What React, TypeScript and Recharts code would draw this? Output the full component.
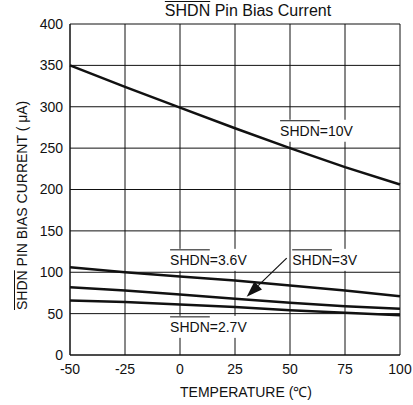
import {
  CartesianGrid,
  Line,
  LineChart,
  ReferenceDot,
  ReferenceLine,
  XAxis,
  YAxis,
} from 'recharts'

// temperature (°C) on the x axis
const temps = [-50, -25, 0, 25, 50, 75, 100]
// bias current (µA) per SHDN voltage
const shdn10 = [350, 324, 299, 274, 250, 227, 206]
const shdn36 = [106, 100, 95, 90, 84, 78, 71]
const shdn3 = [82, 78, 73, 68, 63, 59, 56]
const shdn27 = [66, 64, 61, 58, 54, 51, 48]

const xTicks = [-50, -25, 0, 25, 50, 75, 100]
const yTicks = [0, 50, 100, 150, 200, 250, 300, 350, 400]

// curve labels: suffix after the overlined SHDN, anchor (left edge, middle) in data units
const labelText = ['=10V', '=3.6V', '=3V', '=2.7V']
const labelX = [45.5, -4.5, 51, -4.5]
const labelY = [271, 115, 115, 34]

// arrow from the 3V label down to its curve
const arrowFrom = [48.5, 117]
const arrowTo = [30.3, 70.5]

const data = temps.map((t, i) => ({
  t,
  v10: shdn10[i],
  v36: shdn36[i],
  v3: shdn3[i],
  v27: shdn27[i],
}))

const FONT = '"Liberation Sans", Arial, Helvetica, sans-serif'
const INK = '#111'
const SHDN_W = 39.7 // width of "SHDN" at 14px

function CurveLabel({ cx, cy, suffix }: { cx?: number; cy?: number; suffix: string }) {
  if (cx == null || cy == null) return null
  const w = SHDN_W + suffix.length * 7.6 + 2
  return (
    <g>
      <rect x={cx - 1} y={cy - 11} width={w} height={22} fill="#fff" />
      <line x1={cx} x2={cx + SHDN_W} y1={cy - 10} y2={cy - 10} stroke={INK} strokeWidth={1} />
      <text x={cx} y={cy + 5} fontSize={14} fill={INK} fontFamily={FONT}>
        SHDN{suffix}
      </text>
    </g>
  )
}

function Arrow(props: any) {
  const { x1, y1, x2, y2 } = props
  const dx = x2 - x1
  const dy = y2 - y1
  const len = Math.hypot(dx, dy)
  const ux = dx / len
  const uy = dy / len
  const head = 16
  const half = 5.5
  const bx = x2 - ux * head
  const by = y2 - uy * head
  return (
    <g>
      <line x1={x1} y1={y1} x2={bx} y2={by} stroke={INK} strokeWidth={1.2} />
      <polygon
        points={`${x2},${y2} ${bx - uy * half},${by + ux * half} ${bx + uy * half},${by - ux * half}`}
        fill={INK}
      />
    </g>
  )
}

function YTitle({ viewBox }: any) {
  const cx = 20
  const startY = viewBox.y + viewBox.height - 45
  return (
    <g transform={`translate(${cx},${startY}) rotate(-90)`}>
      <line x1={0} x2={SHDN_W} y1={-5.5} y2={-5.5} stroke={INK} strokeWidth={1} />
      <text x={0} y={6.5} fontSize={14} fill={INK} fontFamily={FONT}>
        SHDN PIN BIAS CURRENT ( μA)
      </text>
    </g>
  )
}

export default function App() {
  return (
    <div
      style={{
        position: 'absolute',
        left: 0,
        top: 0,
        width: 413,
        height: 405,
        background: '#fff',
        fontFamily: FONT,
        color: INK,
      }}
    >
      <div
        style={{
          position: 'absolute',
          top: 2,
          left: 0,
          width: 496,
          textAlign: 'center',
          fontSize: 16,
          whiteSpace: 'nowrap',
        }}
      >
        <span style={{ textDecoration: 'overline' }}>SHDN</span> Pin Bias Current
      </div>
      <div
        style={{
          position: 'absolute',
          top: 382,
          left: 0,
          width: 492,
          textAlign: 'center',
          fontSize: 14,
          whiteSpace: 'nowrap',
        }}
      >
        TEMPERATURE (℃)
      </div>
      <LineChart
        width={413}
        height={405}
        data={data}
        margin={{ top: 24, right: 13, left: 0, bottom: 0 }}
      >
        <CartesianGrid stroke={INK} strokeWidth={1} horizontalValues={yTicks} verticalValues={xTicks} />
        <XAxis
          dataKey="t"
          type="number"
          domain={[-50, 100]}
          ticks={xTicks}
          height={50}
          tickLine={false}
          axisLine={{ stroke: INK }}
          tick={{ fill: INK, fontSize: 14, fontFamily: FONT }}
          tickMargin={3}
        />
        <YAxis
          type="number"
          domain={[0, 400]}
          ticks={yTicks}
          width={70}
          tickLine={false}
          axisLine={{ stroke: INK }}
          tick={{ fill: INK, fontSize: 14, fontFamily: FONT }}
          tickMargin={1}
          label={{ content: (p: any) => <YTitle viewBox={p.viewBox} /> }}
        />
        <Line dataKey="v10" stroke={INK} strokeWidth={2.5} dot={false} isAnimationActive={false} />
        <Line dataKey="v36" stroke={INK} strokeWidth={2.5} dot={false} isAnimationActive={false} />
        <Line dataKey="v3" stroke={INK} strokeWidth={2.5} dot={false} isAnimationActive={false} />
        <Line dataKey="v27" stroke={INK} strokeWidth={2.5} dot={false} isAnimationActive={false} />
        {labelText.map((s, i) => (
          <ReferenceDot
            key={s}
            x={labelX[i]}
            y={labelY[i]}
            r={0}
            shape={(p: any) => <CurveLabel cx={p.cx} cy={p.cy} suffix={s} />}
          />
        ))}
        <ReferenceLine
          segment={[
            { x: arrowFrom[0], y: arrowFrom[1] },
            { x: arrowTo[0], y: arrowTo[1] },
          ]}
          shape={(p: any) => <Arrow {...p} />}
        />
      </LineChart>
    </div>
  )
}
